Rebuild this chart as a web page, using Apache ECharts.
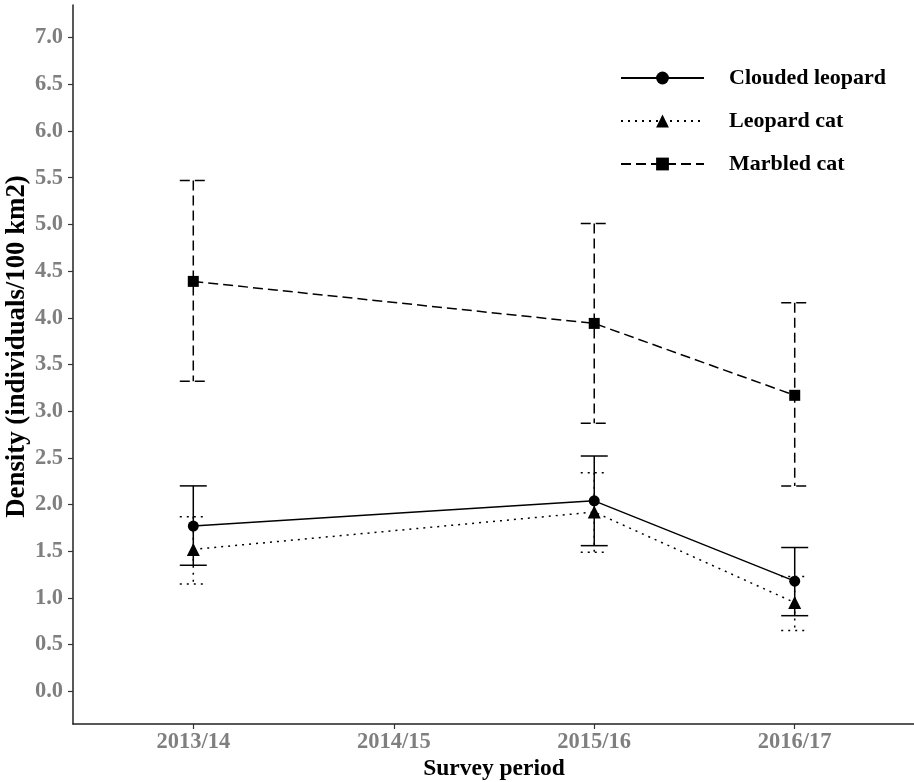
<!DOCTYPE html>
<html>
<head>
<meta charset="utf-8">
<script src="https://cdn.jsdelivr.net/npm/echarts@6/dist/echarts.min.js"></script>
<style>html,body{margin:0;padding:0;background:#fff}#c{width:914px;height:782px}</style>
</head>
<body>
<div id="c"></div>
<script>
const categories = ['2013/14', '2014/15', '2015/16', '2016/17'];
const surveyed = ['2013/14', '2015/16', '2016/17'];
const yTicks = [0, 0.5, 1, 1.5, 2, 2.5, 3, 3.5, 4, 4.5, 5, 5.5, 6, 6.5, 7];

const cloudedMean = [1.77, 2.04, 1.18];
const cloudedLow  = [1.35, 1.56, 0.81];
const cloudedHigh = [2.20, 2.52, 1.54];

const leopardMean = [1.52, 1.92, 0.95];
const leopardLow  = [1.15, 1.49, 0.65];
const leopardHigh = [1.87, 2.34, 1.23];

const marbledMean = [4.39, 3.94, 3.17];
const marbledLow  = [3.32, 2.87, 2.20];
const marbledHigh = [5.47, 5.01, 4.16];

const FONT = '"Liberation Serif", "Times New Roman", serif';
const xPos = c => categories.indexOf(c) + 1;

const species = [
  {name: 'Clouded leopard', mean: cloudedMean, low: cloudedLow, high: cloudedHigh, symbol: 'circle', size: 11, dash: 'solid'},
  {name: 'Leopard cat', mean: leopardMean, low: leopardLow, high: leopardHigh, symbol: 'triangle', size: 13, dash: [2, 5]},
  {name: 'Marbled cat', mean: marbledMean, low: marbledLow, high: marbledHigh, symbol: 'rect', size: 11, dash: [10, 5]}
];

const series = [];
species.forEach(sp => {
  series.push({
    name: sp.name + ' error',
    type: 'custom',
    z: 1,
    silent: true,
    data: surveyed.map((c, i) => [xPos(c), sp.low[i], sp.high[i]]),
    renderItem: function (params, api) {
      const x = api.value(0);
      const lo = api.coord([x, api.value(1)]);
      const hi = api.coord([x, api.value(2)]);
      const hw = 13.5;
      const style = {stroke: '#000', lineWidth: 1.5, lineDash: sp.dash === 'solid' ? null : sp.dash, fill: null};
      return {
        type: 'group',
        children: [
          {type: 'line', shape: {x1: hi[0], y1: hi[1], x2: lo[0], y2: lo[1]}, style: style},
          {type: 'line', shape: {x1: hi[0] - hw, y1: hi[1], x2: hi[0] + hw, y2: hi[1]}, style: style},
          {type: 'line', shape: {x1: lo[0] - hw, y1: lo[1], x2: lo[0] + hw, y2: lo[1]}, style: style}
        ]
      };
    }
  });
});
species.forEach(sp => {
  series.push({
    name: sp.name,
    type: 'line',
    z: 3,
    data: surveyed.map((c, i) => [xPos(c), sp.mean[i]]),
    symbol: sp.symbol,
    symbolSize: sp.size,
    showAllSymbol: true,
    itemStyle: {color: '#000'},
    lineStyle: {color: '#000', width: 1.5, type: sp.dash},
    emphasis: {disabled: true}
  });
});

const chart = echarts.init(document.getElementById('c'), null, {renderer: 'canvas'});
chart.setOption({
  animation: false,
  backgroundColor: '#fff',
  grid: {left: 73, right: -1, top: 5, bottom: 58, containLabel: false, outerBoundsMode: 'none'},
  legend: {
    data: species.map(s => s.name),
    orient: 'vertical',
    left: 620,
    top: 67,
    padding: 0,
    itemWidth: 83,
    itemHeight: 16,
    itemGap: 21,
    textStyle: {fontFamily: FONT, fontWeight: 'bold', fontSize: 22, color: '#000', lineHeight: 22, padding: [0, 0, 0, 20]},
    selectedMode: false
  },
  xAxis: {
    type: 'value',
    min: 0.4,
    max: 4.6,
    name: 'Survey period',
    nameLocation: 'middle',
    nameGap: 33,
    nameMoveOverlap: false,
    nameTextStyle: {fontFamily: FONT, fontWeight: 'bold', fontSize: 23.5, color: '#000'},
    axisLine: {show: true, onZero: false, lineStyle: {color: '#222', width: 1.5}},
    axisTick: {show: true, length: 5, customValues: [1, 2, 3, 4], lineStyle: {color: '#333', width: 1.2}},
    axisLabel: {
      customValues: [1, 2, 3, 4],
      formatter: v => categories[Math.round(v) - 1],
      fontFamily: FONT, fontWeight: 'bold', fontSize: 22.5, color: '#7f7f7f', margin: 7
    },
    splitLine: {show: false}
  },
  yAxis: {
    type: 'value',
    min: -0.35,
    max: 7.35,
    name: 'Density (individuals/100 km2)',
    nameLocation: 'middle',
    nameGap: 42,
    nameMoveOverlap: false,
    nameTextStyle: {fontFamily: FONT, fontWeight: 'bold', fontSize: 26.8, color: '#000', padding: [0, 0, 0, 36]},
    axisLine: {show: true, onZero: false, lineStyle: {color: '#222', width: 1.5}},
    axisTick: {show: true, length: 5, customValues: yTicks, lineStyle: {color: '#333', width: 1.2}},
    axisLabel: {
      customValues: yTicks,
      formatter: v => v.toFixed(1),
      fontFamily: FONT, fontWeight: 'bold', fontSize: 22.5, color: '#7f7f7f', margin: 10
    },
    splitLine: {show: false}
  },
  series: series
});
</script>
</body>
</html>
